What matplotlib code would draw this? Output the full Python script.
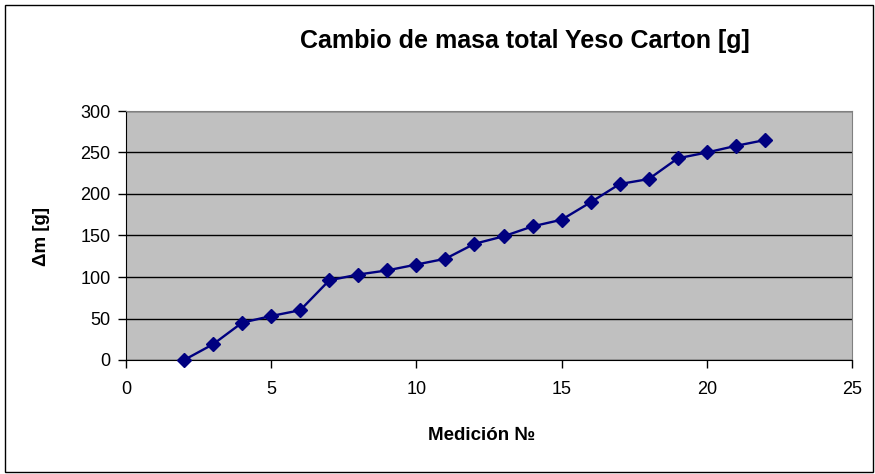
import matplotlib.pyplot as plt
from matplotlib.patches import Rectangle

plt.rcParams['font.family'] = ['Liberation Sans', 'DejaVu Sans']

# measurement number and total mass change
medicion = [2, 3, 4, 5, 6, 7, 8, 9, 10, 11, 12, 13, 14, 15, 16, 17, 18, 19, 20, 21, 22]
delta_m = [0, 19, 45, 53, 60, 96, 103, 108, 115, 122, 140, 149, 161, 169, 190, 212, 218, 243, 250, 258, 265]

x_ticks = [0, 5, 10, 15, 20, 25]
y_ticks = [0, 50, 100, 150, 200, 250, 300]


def main():
    fig = plt.figure(figsize=(8.75, 4.74), dpi=100)
    ax = fig.add_axes([126 / 875, 1 - 360 / 474, 726 / 875, 249 / 474])
    ax.set_facecolor('#C0C0C0')

    ax.plot(medicion, delta_m, color='#000080', linewidth=1.7,
            marker='D', markersize=7, markerfacecolor='#000080',
            markeredgecolor='#000080', clip_on=False, zorder=3)

    ax.set_xlim(0, 25)
    ax.set_ylim(0, 300)
    ax.set_xticks(x_ticks)
    ax.set_yticks(y_ticks)
    ax.yaxis.grid(True, color='black', linewidth=1)
    ax.set_axisbelow(True)
    ax.tick_params(axis='both', direction='out', length=6, width=1,
                   labelsize=13, colors='black')
    ax.tick_params(axis='x', pad=9)
    ax.tick_params(axis='y', pad=5)

    for side in ['top', 'right']:
        ax.spines[side].set_color('#808080')
    for side in ['left', 'bottom']:
        ax.spines[side].set_color('black')

    fig.text(525 / 875, 1 - 41 / 474, 'Cambio de masa total Yeso Carton [g]',
             ha='center', va='center', fontsize=18, fontweight='bold')
    fig.text(482 / 875, 1 - 436 / 474, 'Medición №', ha='center', va='center',
             fontsize=13.5, fontweight='bold')
    fig.text(42 / 875, 1 - 237 / 474, 'Δm [g]', ha='center', va='center',
             rotation=90, fontsize=13.5, fontweight='bold')

    # outer chart border
    fig.patches.append(Rectangle((5 / 875, 2 / 474), 868 / 875, 467 / 474,
                                 transform=fig.transFigure, fill=False,
                                 edgecolor='black', linewidth=1))

    fig.savefig('out.png', dpi=100)


if __name__ == '__main__':
    main()
